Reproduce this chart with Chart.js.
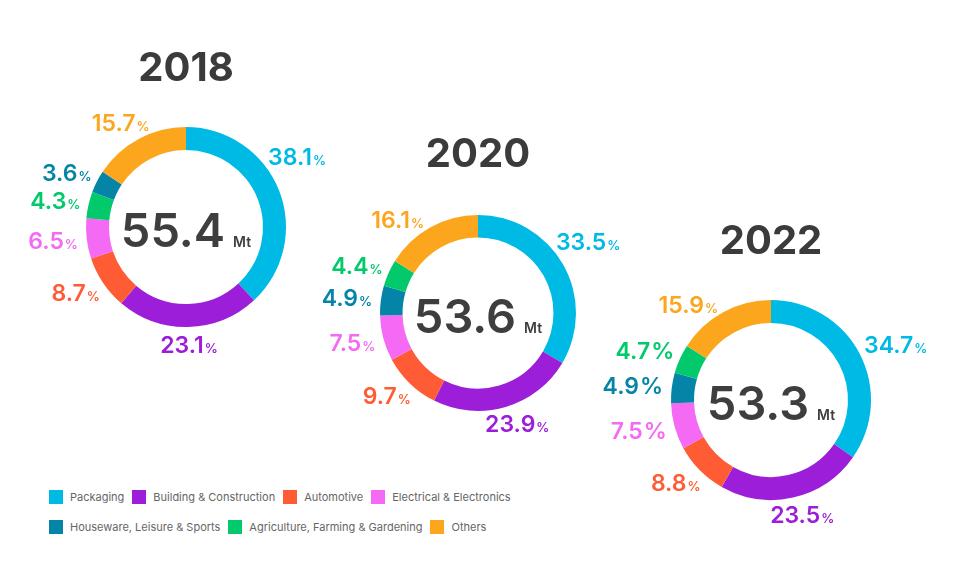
<!DOCTYPE html>
<html>
<head>
<meta charset="utf-8">
<script src="https://cdn.jsdelivr.net/npm/chart.js@4"></script>
<style>
body { margin: 0; width: 979px; height: 581px; overflow: hidden; background: #fff; position: relative; font-family: Inter, "Open Sans", sans-serif; }
canvas { position: absolute; }
#legend { position: absolute; left: 49px; top: 489px; font-size: 11px; color: #666; }
.row { display: flex; align-items: center; height: 16px; margin-bottom: 14px; white-space: nowrap; }
.item { display: flex; align-items: center; margin-right: 8px; }
.box { width: 14px; height: 14px; margin-right: 7px; }
</style>
</head>
<body>
<div id="legend"></div>
<script>
// categories, always in this order
var categories = ['Packaging', 'Building & Construction', 'Automotive', 'Electrical & Electronics',
    'Houseware, Leisure & Sports', 'Agriculture, Farming & Gardening', 'Others'];
var colors = ['#00BAE6', '#9C1ED8', '#FF5B35', '#F56AF4', '#0485A8', '#02C96C', '#FCA61E'];

var years = ['2018', '2020', '2022'];
var totals = [55.4, 53.6, 53.3];

// share in % per category (same order as categories)
var share2018 = [38.1, 23.1, 8.7, 6.5, 3.6, 4.3, 15.7];
var share2020 = [33.5, 23.9, 9.7, 7.5, 4.9, 4.4, 16.1];
var share2022 = [34.7, 23.5, 8.8, 7.5, 4.9, 4.7, 15.9];

// segment order round the ring, clockwise from the top
var order2018 = [0, 1, 2, 3, 5, 4, 6];
var order2020 = [0, 1, 2, 3, 4, 5, 6];
var order2022 = [0, 1, 2, 3, 4, 5, 6];

// where each ring sits on the page
var rings = [
    { cx: 186, cy: 227, r: 100, nudge: { 0: -15 }, bigPct: [] },
    { cx: 478, cy: 313, r: 98, nudge: { 0: -8, 6: -8 }, bigPct: [] },
    { cx: 771, cy: 400, r: 100, nudge: { 6: -8 }, bigPct: [4, 5, 3] }
];

var FONT = 'Inter, "Open Sans", sans-serif';
var SIZE = 400;

var ringText = {
    id: 'ringText',
    afterDraw: function (chart) {
        var cfg = chart.options.plugins.ringText;
        var ctx = chart.ctx;
        var meta = chart.getDatasetMeta(0);
        var cx = meta.data[0].x, cy = meta.data[0].y, R = meta.data[0].outerRadius;
        ctx.save();

        // year
        ctx.fillStyle = '#3b3b3b';
        ctx.font = '700 40px ' + FONT;
        ctx.textAlign = 'center';
        ctx.textBaseline = 'alphabetic';
        ctx.fillText(cfg.title, cx, cy - 146);

        // total in the middle
        ctx.textAlign = 'left';
        ctx.font = '600 47px ' + FONT;
        var big = cfg.total.toFixed(1);
        var wBig = ctx.measureText(big).width;
        ctx.font = '600 14px ' + FONT;
        var wMt = ctx.measureText('Mt').width;
        var x0 = cx - (wBig + 8 + wMt) / 2;
        ctx.fillStyle = '#3e3e3e';
        ctx.font = '600 47px ' + FONT;
        ctx.fillText(big, x0, cy + 20);
        ctx.font = '600 14px ' + FONT;
        ctx.fillText('Mt', x0 + wBig + 8, cy + 20);

        // percentage labels
        meta.data.forEach(function (arc, i) {
            var cat = cfg.order[i];
            var a = (arc.startAngle + arc.endAngle) / 2 + (cfg.nudge[cat] || 0) * Math.PI / 180;
            var dx = Math.cos(a), dy = Math.sin(a);
            var num = cfg.values[i].toFixed(1);
            var pctSize = cfg.bigPct.indexOf(cat) >= 0 ? 23 : 13;
            ctx.font = '600 23px ' + FONT;
            var wn = ctx.measureText(num).width;
            ctx.font = '600 ' + pctSize + 'px ' + FONT;
            var wp = ctx.measureText('%').width + 1;
            var w = wn + wp, h = 18;
            var tx = cx + (R + 9) * dx + w / 2 * dx;
            var ty = cy + (R + 9) * dy + h / 2 * dy;
            ctx.fillStyle = colors[cat];
            ctx.font = '600 23px ' + FONT;
            ctx.fillText(num, tx - w / 2, ty + 8);
            ctx.font = '600 ' + pctSize + 'px ' + FONT;
            ctx.fillText('%', tx - w / 2 + wn + 1, ty + 8);
        });
        ctx.restore();
    }
};

function drawRing(k, shares, order) {
    var ring = rings[k];
    var canvas = document.createElement('canvas');
    canvas.width = SIZE;
    canvas.height = SIZE;
    canvas.style.left = (ring.cx - SIZE / 2) + 'px';
    canvas.style.top = (ring.cy - SIZE / 2) + 'px';
    document.body.appendChild(canvas);
    var pad = SIZE / 2 - ring.r;
    var values = order.map(function (c) { return shares[c]; });
    new Chart(canvas.getContext('2d'), {
        type: 'doughnut',
        data: {
            labels: order.map(function (c) { return categories[c]; }),
            datasets: [{
                data: values,
                backgroundColor: order.map(function (c) { return colors[c]; }),
                borderWidth: 0
            }]
        },
        options: {
            responsive: false,
            animation: false,
            cutout: '77%',
            layout: { padding: pad },
            plugins: {
                legend: { display: false },
                tooltip: { enabled: false },
                ringText: { title: years[k], total: totals[k], order: order, values: values, nudge: ring.nudge, bigPct: ring.bigPct }
            }
        },
        plugins: [ringText]
    });
}

drawRing(0, share2018, order2018);
drawRing(1, share2020, order2020);
drawRing(2, share2022, order2022);

// legend, two rows
var legendRows = [[0, 1, 2, 3], [4, 5, 6]];
var legend = document.getElementById('legend');
legendRows.forEach(function (row) {
    var temp = '<div class="row">';
    row.forEach(function (c) {
        temp += '<div class="item"><div class="box" style="background:' + colors[c] + '"></div>' + categories[c] + '</div>';
    });
    temp += '</div>';
    legend.innerHTML += temp;
});
</script>
</body>
</html>
